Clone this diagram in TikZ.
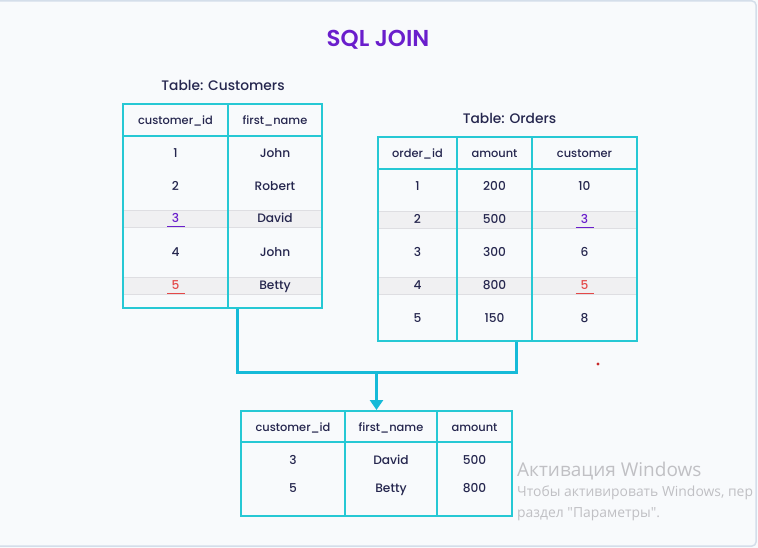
\documentclass[tikz,border=0pt]{standalone}
\usepackage{fontspec}
\setmainfont{Poppins}
\IfFontExistsTF{Poppins Medium}{\newfontfamily\popm{Poppins Medium}}{\newfontfamily\popm{Poppins}}
\IfFontExistsTF{Poppins SemiBold}{\newfontfamily\popt{Poppins SemiBold}}{\newfontfamily\popt{Poppins}}
\newfontfamily\wmfont{Open Sans}
\usetikzlibrary{arrows.meta,calc}
\definecolor{bgc}{RGB}{248,250,252}
\definecolor{framec}{RGB}{212,222,234}
\definecolor{tealc}{RGB}{38,200,212}
\definecolor{connc}{RGB}{22,186,216}
\definecolor{txtc}{RGB}{37,38,78}
\definecolor{purc}{RGB}{106,30,204}
\definecolor{redc}{RGB}{228,72,72}
\definecolor{bandc}{RGB}{240,240,242}
\definecolor{bandl}{RGB}{222,222,226}
\definecolor{wmc}{RGB}{192,192,196}
\definecolor{dotc}{RGB}{200,40,40}
\tikzset{
  tbl/.style={draw=tealc, line width=2pt, inner sep=0pt},
  colline/.style={draw=tealc, line width=2pt},
  cell/.style={text=txtc, font=\popm\fontsize{12.2}{14}\selectfont, inner sep=0pt, anchor=mid, yshift=-2pt},
  hcell/.style={cell, font=\popm\fontsize{11.4}{13}\selectfont},
  ttl/.style={text=txtc, font=\popm\fontsize{13.8}{16}\selectfont, inner sep=0pt, anchor=mid, yshift=-2pt},
  band/.style={fill=bandc, draw=bandl, line width=0.6pt},
  conn/.style={draw=connc, line width=3pt},
  uline/.style={line width=1.6pt},
  wm/.style={text=wmc, anchor=west, inner sep=0pt},
}
\begin{document}
\begin{tikzpicture}[x=1pt,y=-1pt]
\useasboundingbox (0,0) rectangle (758,548);
\fill[bgc] (0,0) rectangle (758,548);
\draw[framec, line width=1.5pt, rounded corners=4pt] (-10,1) -- (756,1) -- (756,546) -- (-10,546);

% title
\node[text=purc, font=\popt\fontsize{23}{25}\selectfont, inner sep=0pt, anchor=mid, yshift=-2pt] (title) at (378,42) {SQL JOIN};

% ---------- Customers ----------
\node[ttl] (custT) at (223,86) {Table: Customers};
\draw[band] (123,210) rectangle (322,227);
\draw[band] (123,277) rectangle (322,294);
\node[tbl, minimum width=199pt, minimum height=204pt] (cust) at (222.5,206) {};
\draw[colline] (228,104) -- (228,308);
\draw[colline] (123,136) -- (322,136);
\node[hcell] (ch1) at (175.5,120) {customer\_id};
\node[hcell] (ch2) at (275,120) {first\_name};
\foreach \y/\a/\b in {153/1/John,186/2/Robert,252/4/John}{
  \node[cell] at (175.5,\y) {\a};
  \node[cell] at (275,\y) {\b};
}
\node[cell, text=purc] (c3) at (175.5,218) {3};
\draw[purc, uline] (167,226.5) -- (185,226.5);
\node[cell] at (275,218) {David};
\node[cell, text=redc] (c5) at (175.5,285) {5};
\draw[redc, uline] (167,293.5) -- (185,293.5);
\node[cell] at (275,285) {Betty};

% ---------- Orders ----------
\node[ttl] (ordT) at (509.5,119) {Table: Orders};
\draw[band] (378,211) rectangle (637,228);
\draw[band] (378,277) rectangle (637,294);
\node[tbl, minimum width=258.5pt, minimum height=204pt] (ord) at (507.5,239) {};
\draw[colline] (457,137) -- (457,341);
\draw[colline] (532,137) -- (532,341);
\draw[colline] (378,169) -- (637,169);
\node[hcell] (oh1) at (417.5,153) {order\_id};
\node[hcell] (oh2) at (494.5,153) {amount};
\node[hcell] (oh3) at (584.5,153) {customer};
\foreach \y/\a/\b/\c in {186/1/200/10,252/3/300/6,318/5/150/8}{
  \node[cell] at (417.5,\y) {\a};
  \node[cell] at (494.5,\y) {\b};
  \node[cell] at (584.5,\y) {\c};
}
\node[cell] at (417.5,219) {2};
\node[cell] at (494.5,219) {500};
\node[cell, text=purc] (o3) at (584.5,219) {3};
\draw[purc, uline] (575.5,227.5) -- (593.5,227.5);
\node[cell] at (417.5,285) {4};
\node[cell] at (494.5,285) {800};
\node[cell, text=redc] (o5) at (584.5,285) {5};
\draw[redc, uline] (575.5,293.5) -- (593.5,293.5);

% ---------- Result ----------
\node[tbl, minimum width=271pt, minimum height=105pt] (res) at (376.5,463.5) {};
\draw[colline] (345,411) -- (345,516);
\draw[colline] (437,411) -- (437,516);
\draw[colline] (241,442) -- (512,442);
\node[hcell] (rh1) at (293,427) {customer\_id};
\node[hcell] (rh2) at (391,427) {first\_name};
\node[hcell] (rh3) at (474.5,427) {amount};
\node[cell] at (293,460) {3};
\node[cell] at (391,460) {David};
\node[cell] at (474.5,460) {500};
\node[cell] at (293,488) {5};
\node[cell] at (391,488) {Betty};
\node[cell] at (474.5,488) {800};

% ---------- connectors ----------
\coordinate (c1) at ($(cust.south west)+(115,0)$);
\coordinate (o1) at ($(ord.south west)+(139,0)$);
\coordinate (j) at (res.north |- 0,372);
\draw[conn] (c1) -- (c1 |- j) -- (o1 |- j) -- (o1);
\draw[conn, -{Triangle[length=10pt,width=13pt]}] (j) -- (res.north);

% red dot
\fill[dotc] (598,364) circle (1.6pt);

% watermark
\node[wm, font=\wmfont\fontsize{19}{21}\selectfont] (wm1) at (517,471) {Активация Windows};
\node[wm, font=\wmfont\fontsize{13.9}{15}\selectfont] (wm2) at (517,493) {Чтобы активировать Windows, пер};
\node[wm, font=\wmfont\fontsize{13.9}{15}\selectfont] (wm3) at (517,514) {раздел "Параметры".};
\end{tikzpicture}
\end{document}
